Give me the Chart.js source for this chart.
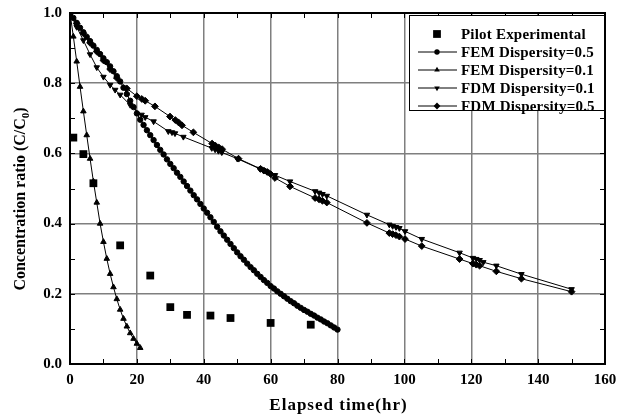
<!DOCTYPE html>
<html>
<head>
<meta charset="utf-8">
<script src="https://cdn.jsdelivr.net/npm/chart.js@4.4.1/dist/chart.umd.min.js"></script>
<style>
  html, body { margin: 0; padding: 0; background: #fff; }
  #wrap { width: 629px; height: 418px; }
</style>
</head>
<body>
<div id="wrap"><canvas id="myChart" width="629" height="418"></canvas></div>
<script>
// data
const pilotTime = [1, 4, 7, 15, 24, 30, 35, 42, 48, 60, 72];
const pilotConc = [0.645, 0.598, 0.515, 0.338, 0.252, 0.162, 0.140, 0.138, 0.131, 0.117, 0.112];

const fem05Time = [0, 1, 2, 3, 4, 5, 6, 7, 8, 9, 10, 11, 12, 13, 14, 15, 16, 17, 18, 19, 20,
    21, 22, 23, 24, 25, 26, 27, 28, 29, 30, 31, 32, 33, 34, 35, 36, 37, 38, 39, 40,
    41, 42, 43, 44, 45, 46, 47, 48, 49, 50, 51, 52, 53, 54, 55, 56, 57, 58, 59, 60,
    61, 62, 63, 64, 65, 66, 67, 68, 69, 70, 71, 72, 73, 74, 75, 76, 77, 78, 79, 80];
const fem05Conc = [1.000, 0.986, 0.972, 0.958, 0.945, 0.932, 0.920, 0.907, 0.895, 0.883, 0.871,
    0.860, 0.848, 0.834, 0.820, 0.805, 0.787, 0.769, 0.750, 0.732, 0.714,
    0.696, 0.681, 0.666, 0.652, 0.638, 0.624, 0.610, 0.597, 0.583, 0.570,
    0.558, 0.545, 0.533, 0.520, 0.507, 0.494, 0.481, 0.469, 0.456, 0.443,
    0.431, 0.418, 0.405, 0.391, 0.378, 0.366, 0.354, 0.342, 0.330, 0.318,
    0.307, 0.297, 0.286, 0.276, 0.267, 0.257, 0.248, 0.239, 0.231, 0.222,
    0.215, 0.207, 0.200, 0.193, 0.186, 0.179, 0.173, 0.166, 0.160, 0.154,
    0.149, 0.143, 0.138, 0.132, 0.127, 0.121, 0.116, 0.110, 0.104, 0.098];

const fem01Time = [0, 1, 2, 3, 4, 5, 6, 7, 8, 9, 10, 11, 12, 13, 14, 15, 16, 17, 18, 19, 20, 21];
const fem01Conc = [1.000, 0.933, 0.862, 0.790, 0.720, 0.652, 0.585, 0.520, 0.460, 0.400, 0.348,
    0.300, 0.257, 0.219, 0.185, 0.155, 0.129, 0.107, 0.088, 0.072, 0.058, 0.046];

const fdm01Time = [0, 2, 4, 6, 8, 10, 12, 13.5, 15, 18, 21.4, 22.5, 25, 29.4, 30.5, 31.4, 33.9,
    42.4, 43.4, 44.4, 45.4, 50, 56.8, 57.8, 58.8, 61.3, 65.8, 73.3, 74.5, 75.5, 76.8,
    88.8, 95.5, 96.5, 97.5, 98.5, 100.2, 105.2, 116.5, 120.5, 121.5, 122.5, 123.6, 127.5, 135, 150];
const fdm01Conc = [1.000, 0.960, 0.922, 0.882, 0.845, 0.818, 0.795, 0.781, 0.767, 0.738, 0.710, 0.703, 0.691, 0.663, 0.660, 0.657, 0.647,
    0.615, 0.611, 0.607, 0.603, 0.585, 0.556, 0.552, 0.548, 0.538, 0.520, 0.492, 0.488, 0.484, 0.479,
    0.425, 0.397, 0.393, 0.390, 0.387, 0.378, 0.356, 0.317, 0.302, 0.299, 0.296, 0.290, 0.280, 0.256, 0.213];

const fdm05Time = [0, 2, 4, 6, 8, 10, 12, 14, 17, 20, 21.5, 22.5, 25.4, 29.9, 31.5, 32.5, 33.5, 36.9,
    42.5, 43.5, 44.5, 45.5, 50.4, 57, 58, 59, 60, 61.3, 65.8, 73.3, 74.5, 75.5, 76.8,
    88.8, 95.5, 96.5, 97.5, 98.5, 100.2, 105.2, 116.5, 120.5, 121.5, 122.5, 127.5, 135, 150];
const fdm05Conc = [1.000, 0.970, 0.942, 0.915, 0.890, 0.865, 0.840, 0.815, 0.785, 0.763, 0.755, 0.750, 0.734, 0.705, 0.695, 0.688, 0.680, 0.660,
    0.628, 0.622, 0.617, 0.612, 0.585, 0.556, 0.551, 0.547, 0.541, 0.530, 0.506, 0.473, 0.469, 0.465, 0.460,
    0.402, 0.373, 0.370, 0.367, 0.363, 0.356, 0.336, 0.299, 0.286, 0.283, 0.280, 0.264, 0.243, 0.206];

const xTicks = [0, 20, 40, 60, 80, 100, 120, 140, 160];
const yTicks = [0.0, 0.2, 0.4, 0.6, 0.8, 1.0];
const xTitle = 'Elapsed time(hr)';
const yTitle = 'Concentration ratio (C/C';   // + subscript 0 + ')'

const serif = "'Liberation Serif', 'Times New Roman', serif";

function toPoints(xs, ys) {
    return xs.map((x, i) => ({ x: x, y: ys[i] }));
}

// little marker painter for the legend
function marker(ctx, style, r, x, y) {
    ctx.beginPath();
    if (style === 'rect') {
        ctx.rect(x - r * 0.707, y - r * 0.707, r * 1.414, r * 1.414);
    } else if (style === 'circle') {
        ctx.arc(x, y, r, 0, Math.PI * 2);
    } else if (style === 'triangle') {
        ctx.moveTo(x, y - r);
        ctx.lineTo(x + r * 0.866, y + r * 0.5);
        ctx.lineTo(x - r * 0.866, y + r * 0.5);
        ctx.closePath();
    } else if (style === 'down') {
        ctx.moveTo(x, y + r);
        ctx.lineTo(x + r * 0.866, y - r * 0.5);
        ctx.lineTo(x - r * 0.866, y - r * 0.5);
        ctx.closePath();
    } else {
        ctx.moveTo(x, y - r);
        ctx.lineTo(x + r, y);
        ctx.lineTo(x, y + r);
        ctx.lineTo(x - r, y);
        ctx.closePath();
    }
    ctx.fill();
}

const decor = {
    id: 'decor',
    afterDraw(chart) {
        const ctx = chart.ctx;
        const a = chart.chartArea;
        const sx = chart.scales.x;
        const sy = chart.scales.y;
        ctx.save();
        ctx.strokeStyle = '#000';
        ctx.lineWidth = 1;
        // inward minor ticks
        ctx.beginPath();
        for (let v = 10; v < 160; v += 10) {
            const px = Math.round(sx.getPixelForValue(v)) + 0.5;
            ctx.moveTo(px, a.bottom); ctx.lineTo(px, a.bottom - 5);
            ctx.moveTo(px, a.top); ctx.lineTo(px, a.top + 5);
        }
        for (let k = 1; k < 10; k++) {
            const py = Math.round(sy.getPixelForValue(k / 10)) + 0.5;
            ctx.moveTo(a.left, py); ctx.lineTo(a.left + 5, py);
            ctx.moveTo(a.right, py); ctx.lineTo(a.right - 5, py);
        }
        ctx.stroke();
        // frame
        ctx.lineWidth = 2;
        ctx.strokeRect(a.left, a.top, a.right - a.left, a.bottom - a.top);

        // axis titles
        ctx.fillStyle = '#000';
        ctx.textBaseline = 'middle';
        ctx.textAlign = 'center';
        ctx.font = 'bold 17px ' + serif;
        ctx.letterSpacing = '1px';
        ctx.fillText(xTitle, (a.left + a.right) / 2 + 1, 406);
        ctx.letterSpacing = '0px';

        ctx.save();
        ctx.translate(21, 199);
        ctx.rotate(-Math.PI / 2);
        ctx.font = 'bold 16px ' + serif;
        const w1 = ctx.measureText(yTitle).width;
        ctx.font = 'bold 11px ' + serif;
        const w2 = ctx.measureText('0').width;
        ctx.font = 'bold 16px ' + serif;
        const w3 = ctx.measureText(')').width;
        let tx = -(w1 + w2 + w3) / 2;
        ctx.textAlign = 'left';
        ctx.fillText(yTitle, tx, 0);
        ctx.font = 'bold 11px ' + serif;
        ctx.fillText('0', tx + w1, 5);
        ctx.font = 'bold 16px ' + serif;
        ctx.fillText(')', tx + w1 + w2, 0);
        ctx.restore();

        // legend box
        const bx = a.right - 196, by = a.top + 2, bw = 195, bh = 95;
        ctx.fillStyle = '#fff';
        ctx.fillRect(bx, by, bw, bh);
        ctx.lineWidth = 1;
        ctx.strokeRect(bx + 0.5, by + 0.5, bw, bh);
        ctx.font = 'bold 15px ' + serif;
        ctx.letterSpacing = '0.2px';
        ctx.textAlign = 'left';
        ctx.textBaseline = 'middle';
        chart.data.datasets.forEach((ds, i) => {
            const ly = by + 19 + i * 18;
            ctx.fillStyle = '#000';
            if (ds.showLine) {
                ctx.beginPath();
                ctx.moveTo(bx + 9, ly); ctx.lineTo(bx + 48, ly);
                ctx.stroke();
            }
            marker(ctx, ds.legendMark, ds.pointRadius, bx + 28, ly);
            ctx.fillText(ds.label, bx + 52, ly + 1);
        });
        ctx.letterSpacing = '0px';
        ctx.restore();
    }
};

const ctx = document.getElementById('myChart').getContext('2d');
const myChart = new Chart(ctx, {
    type: 'scatter',
    data: {
        datasets: [{
            label: 'Pilot Experimental',
            data: toPoints(pilotTime, pilotConc),
            showLine: false,
            pointStyle: 'rect',
            legendMark: 'rect',
            pointRadius: 5.5,
            backgroundColor: '#000',
            borderColor: '#000',
            borderWidth: 0
        }, {
            label: 'FEM Dispersity=0.5',
            data: toPoints(fem05Time, fem05Conc),
            showLine: true,
            pointStyle: 'circle',
            legendMark: 'circle',
            pointRadius: 2.7,
            backgroundColor: '#000',
            borderColor: '#000',
            borderWidth: 1
        }, {
            label: 'FEM Dispersity=0.1',
            data: toPoints(fem01Time, fem01Conc),
            showLine: true,
            pointStyle: 'triangle',
            legendMark: 'triangle',
            pointRadius: 3.2,
            backgroundColor: '#000',
            borderColor: '#000',
            borderWidth: 1
        }, {
            label: 'FDM Dispersity=0.1',
            data: toPoints(fdm01Time, fdm01Conc),
            showLine: true,
            pointStyle: 'triangle',
            pointRotation: 180,
            legendMark: 'down',
            pointRadius: 3.2,
            backgroundColor: '#000',
            borderColor: '#000',
            borderWidth: 1
        }, {
            label: 'FDM Dispersity=0.5',
            data: toPoints(fdm05Time, fdm05Conc),
            showLine: true,
            pointStyle: 'rectRot',
            legendMark: 'diamond',
            pointRadius: 3.4,
            backgroundColor: '#000',
            borderColor: '#000',
            borderWidth: 1
        }]
    },
    options: {
        responsive: false,
        animation: false,
        events: [],
        layout: { padding: { top: 13, right: 24, left: 0, bottom: 0 } },
        elements: {
            line: { borderWidth: 1, borderColor: '#000', tension: 0 },
            point: { borderWidth: 0 }
        },
        plugins: {
            legend: { display: false },
            tooltip: { enabled: false }
        },
        scales: {
            x: {
                type: 'linear',
                min: 0,
                max: 160,
                afterFit: s => { s.height = 54; s.paddingLeft = 0; s.paddingRight = 0; },
                afterBuildTicks: s => { s.ticks = xTicks.map(v => ({ value: v })); },
                border: { display: false },
                grid: {
                    drawTicks: false,
                    lineWidth: 1.5,
                    color: c => (c.tick.value === 0 || c.tick.value === 160) ? 'rgba(0,0,0,0)' : '#7f7f7f'
                },
                ticks: {
                    padding: 7,
                    color: '#000',
                    font: { family: serif, size: 15, weight: 'bold' },
                    callback: v => v
                }
            },
            y: {
                type: 'linear',
                min: 0,
                max: 1,
                afterFit: s => { s.width = 70; s.paddingTop = 0; s.paddingBottom = 0; },
                afterBuildTicks: s => { s.ticks = yTicks.map(v => ({ value: v })); },
                border: { display: false },
                grid: {
                    drawTicks: false,
                    lineWidth: 1.5,
                    color: c => (c.tick.value === 0 || c.tick.value === 1) ? 'rgba(0,0,0,0)' : '#7f7f7f'
                },
                ticks: {
                    padding: 8,
                    color: '#000',
                    font: { family: serif, size: 15, weight: 'bold' },
                    callback: v => Number(v).toFixed(1)
                }
            }
        }
    },
    plugins: [decor]
});
</script>
</body>
</html>
